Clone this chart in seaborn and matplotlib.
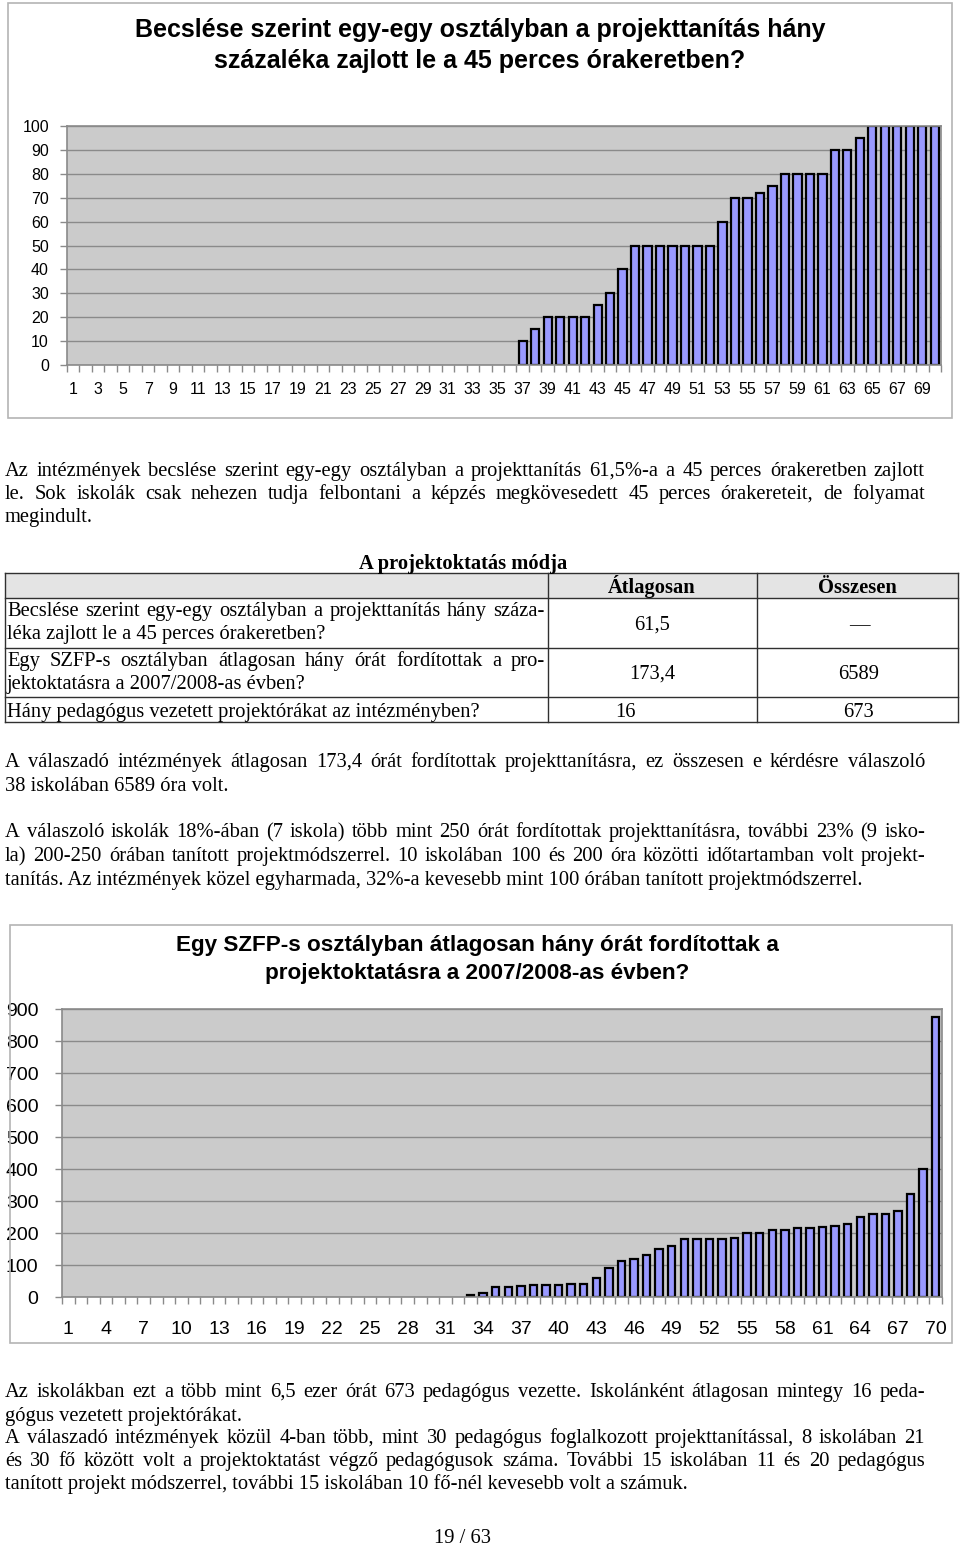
import numpy as np
import matplotlib
matplotlib.use("Agg")
import matplotlib.pyplot as plt
import seaborn as sns
from matplotlib.patches import Rectangle
from matplotlib.lines import Line2D
from matplotlib.font_manager import FontProperties

# ---------------- data ----------------
# Chart 1: share (%) of project teaching within the 45-minute frame, per school (sorted)
schools1 = [str(i) for i in range(1, 71)]
pct_45min = [0] * 36 + [10, 15, 20, 20, 20, 20, 25, 30, 40,
                        50, 50, 50, 50, 50, 50, 50, 60, 70, 70, 72, 75,
                        80, 80, 80, 80, 90, 90, 95, 100, 100, 100, 100, 100, 100]
ticks1 = [str(i) for i in range(1, 71, 2)]

# Chart 2: hours spent on project teaching per SZFP class, per school (sorted)
schools2 = [str(i) for i in range(1, 71)]
hours_proj = [0] * 32 + [5, 12, 31, 31, 35, 36, 36, 36, 42, 42, 60, 91, 112, 120,
                         130, 150, 159, 180, 180, 180, 180, 185, 200, 200, 210, 209,
                         216, 216, 219, 221, 228, 249, 259, 259, 269, 322, 400, 875]
ticks2 = [str(i) for i in range(1, 71, 3)]

table_rows = ["Becslése szerint egy-egy osztályban a projekttanítás hány száza-\nléka zajlott le a 45 perces órakeretben?",
              "Egy SZFP-s osztályban átlagosan hány órát fordítottak a pro-\njektoktatásra a 2007/2008-as évben?",
              "Hány pedagógus vezetett projektórákat az intézményben?"]
table_avg = ["61,5", "173,4", "16"]
table_sum = ["—", "6589", "673"]

# ---------------- layout helpers ----------------
W, H = 960, 1549
fig = plt.figure(figsize=(W / 100, H / 100), dpi=100)
renderer = fig.canvas.get_renderer()

SANS = "Liberation Sans"
SERIF = "Liberation Serif"
BAR = "#9999ff"
PLOTBG = "#cbcbcb"
GRID = "#8a8a8a"


def box(x0, y0, x1, y1):
    return [x0 / W, 1 - y1 / H, (x1 - x0) / W, (y1 - y0) / H]


def fx(x):
    return x / W


def fy(y):
    return 1 - y / H


def frame(x0, y0, x1, y1, color="#b4b4b4"):
    fig.add_artist(Rectangle((fx(x0), fy(y1)), (x1 - x0) / W, (y1 - y0) / H,
                             transform=fig.transFigure, fill=False,
                             edgecolor=color, linewidth=1.2))


def hline(x0, x1, y, color="#303030", lw=1.0):
    fig.add_artist(Line2D([fx(x0), fx(x1)], [fy(y), fy(y)], transform=fig.transFigure,
                          color=color, linewidth=lw))


def vline(x, y0, y1, color="#303030", lw=1.0):
    fig.add_artist(Line2D([fx(x), fx(x)], [fy(y0), fy(y1)], transform=fig.transFigure,
                          color=color, linewidth=lw))


body_fp = FontProperties(family=SERIF, size=14.8)
bold_fp = FontProperties(family=SERIF, size=14.8, weight="bold")


def tline(text, x0, x1, ybase, fp=body_fp, justify=True):
    if not justify:
        fig.text(fx(x0), fy(ybase), text, fontproperties=fp, ha="left", va="baseline")
        return
    words = text.split(" ")
    widths = [renderer.get_text_width_height_descent(w, fp, ismath=False)[0] for w in words]
    gap = (x1 - x0 - sum(widths)) / max(len(words) - 1, 1)
    x = x0
    for w, wd in zip(words, widths):
        fig.text(fx(x), fy(ybase), w, fontproperties=fp, ha="left", va="baseline")
        x += wd + gap


def style_chart(ax, ymax, ystep, tick_pos, tick_labels, fsize, xpad, ypad):
    ax.set_facecolor(PLOTBG)
    ax.set_xlim(-0.5, 69.5)
    ax.set_ylim(0, ymax)
    ax.set_yticks(np.arange(0, ymax + 1, ystep))
    ax.set_yticklabels([str(v) for v in range(0, ymax + 1, ystep)],
                       fontfamily=SANS, fontsize=fsize)
    ax.set_xticks(tick_pos)
    ax.set_xticklabels(tick_labels, fontfamily=SANS, fontsize=fsize)
    ax.set_xticks(np.arange(-0.5, 70, 1), minor=True)
    ax.tick_params(axis="x", which="major", length=0, pad=xpad)
    ax.tick_params(axis="x", which="minor", length=5, color=GRID, width=1)
    ax.tick_params(axis="y", which="major", length=5, color=GRID, width=1, pad=ypad)
    ax.set_xlabel("")
    ax.set_ylabel("")
    ax.yaxis.grid(True, color=GRID, linewidth=1)
    ax.xaxis.grid(False)
    ax.set_axisbelow(True)
    for s in ax.spines.values():
        s.set_color(GRID)
        s.set_linewidth(1.2)
    for p in ax.patches:
        if p.get_height() == 0:
            p.set_linewidth(0)


# ---------------- chart 1 ----------------
frame(8, 3, 952, 418)
fig.text(fx(480), fy(30), "Becslése szerint egy-egy osztályban a projekttanítás hány",
         fontfamily=SANS, fontsize=18, fontweight="bold", ha="center", va="center")
fig.text(fx(480), fy(61), "százaléka zajlott le a 45 perces órakeretben?",
         fontfamily=SANS, fontsize=18, fontweight="bold", ha="center", va="center")

ax1 = fig.add_axes(box(67, 126, 941, 365))
sns.barplot(x=schools1, y=pct_45min, ax=ax1, color=BAR, saturation=1,
            edgecolor="black", linewidth=1.6, width=0.66)
style_chart(ax1, 100, 10, list(range(0, 70, 2)), ticks1, 11.5, 12, 8)

# ---------------- paragraph 1 ----------------
tline("Az intézmények becslése szerint egy-egy osztályban a projekttanítás 61,5%-a a 45 perces órakeretben zajlott",
      5, 925, 476)
tline("le. Sok iskolák csak nehezen tudja felbontani a képzés megkövesedett 45 perces órakereteit, de folyamat",
      5, 925, 499)
tline("megindult.", 5, 925, 522, justify=False)

# ---------------- table ----------------
fig.text(fx(463), fy(569), "A projektoktatás módja", fontproperties=bold_fp,
         ha="center", va="baseline")
fig.add_artist(Rectangle((fx(5), fy(598)), (958 - 5) / W, (598 - 573) / H,
                         transform=fig.transFigure, facecolor="#e4e4e4", edgecolor="none"))
for yy in [573, 598, 648, 697, 722]:
    hline(5, 958, yy)
for xx in [5, 548, 757, 958]:
    vline(xx, 573, 722)
fig.text(fx(652), fy(593), "Átlagosan", fontproperties=bold_fp, ha="center", va="baseline")
fig.text(fx(857), fy(593), "Összesen", fontproperties=bold_fp, ha="center", va="baseline")

row_y = [(616, 639, 630), (666, 689, 679), (717, None, 717)]
for txt, avg, tot, (ya, yb, yc) in zip(table_rows, table_avg, table_sum, row_y):
    parts = txt.split("\n")
    if len(parts) == 2:
        tline(parts[0], 7, 545, ya)
        tline(parts[1], 7, 545, yb, justify=False)
    else:
        tline(parts[0], 7, 545, ya, justify=False)
    fig.text(fx(652 if avg != "16" else 625), fy(yc), avg, fontproperties=body_fp,
             ha="center", va="baseline")
    fig.text(fx(859), fy(yc), tot, fontproperties=body_fp, ha="center", va="baseline")

# ---------------- paragraphs 2 & 3 ----------------
tline("A válaszadó intézmények átlagosan 173,4 órát fordítottak projekttanításra, ez összesen e kérdésre válaszoló",
      5, 925, 767)
tline("38 iskolában 6589 óra volt.", 5, 925, 791, justify=False)

tline("A válaszoló iskolák 18%-ában (7 iskola) több mint 250 órát fordítottak projekttanításra, további 23% (9 isko-",
      5, 925, 837)
tline("la) 200-250 órában tanított projektmódszerrel. 10 iskolában 100 és 200 óra közötti időtartamban volt projekt-",
      5, 925, 861)
tline("tanítás. Az intézmények közel egyharmada, 32%-a kevesebb mint 100 órában tanított projektmódszerrel.",
      5, 925, 885, justify=False)

# ---------------- chart 2 ----------------
frame(10, 925, 952, 1343)
fig.text(fx(477), fy(945), "Egy SZFP-s osztályban átlagosan hány órát fordítottak a",
         fontfamily=SANS, fontsize=16.2, fontweight="bold", ha="center", va="center")
fig.text(fx(477), fy(973), "projektoktatásra a 2007/2008-as évben?",
         fontfamily=SANS, fontsize=16.2, fontweight="bold", ha="center", va="center")

ax2 = fig.add_axes(box(62, 1009, 942, 1297))
sns.barplot(x=schools2, y=hours_proj, ax=ax2, color=BAR, saturation=1,
            edgecolor="black", linewidth=1.6, width=0.6)
style_chart(ax2, 900, 100, list(range(0, 70, 3)), ticks2, 14, 17, 12)

# ---------------- paragraph 4 ----------------
tline("Az iskolákban ezt a több mint 6,5 ezer órát 673 pedagógus vezette. Iskolánként átlagosan mintegy 16 peda-",
      5, 925, 1397)
tline("gógus vezetett projektórákat.", 5, 925, 1421, justify=False)
tline("A válaszadó intézmények közül 4-ban több, mint 30 pedagógus foglalkozott projekttanítással, 8 iskolában 21",
      5, 925, 1443)
tline("és 30 fő között volt a projektoktatást végző pedagógusok száma. További 15 iskolában 11 és 20 pedagógus",
      5, 925, 1466)
tline("tanított projekt módszerrel, további 15 iskolában 10 fő-nél kevesebb volt a számuk.",
      5, 925, 1489, justify=False)

fig.text(fx(462), fy(1549 - 6), "19 / 63", fontproperties=body_fp, ha="center", va="baseline")

fig.savefig("out.png", dpi=100, facecolor="white")
